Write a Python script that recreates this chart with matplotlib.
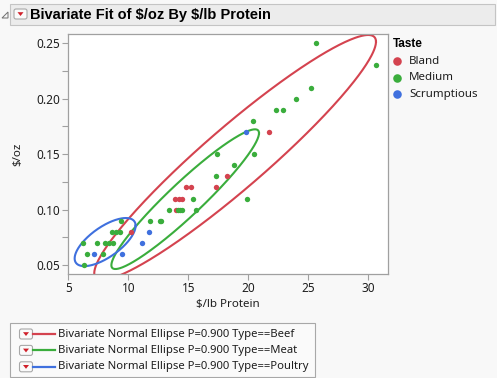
import numpy as np
import matplotlib
matplotlib.use("Agg")
import matplotlib.pyplot as plt
from matplotlib.patches import FancyBboxPatch, Rectangle, Polygon

plt.rcParams['font.family'] = ['Noto Sans', 'DejaVu Sans']
BOLD_FAM = ['Liberation Sans', 'DejaVu Sans']

# ---------------- data ----------------
bland_x = [21.7, 18.2, 17.3, 14.8, 15.2, 13.9, 14.2, 14.5, 13.95, 10.2]
bland_y = [0.17, 0.13, 0.12, 0.12, 0.12, 0.11, 0.11, 0.11, 0.10, 0.08]

medium_x = [25.6, 30.6, 25.25, 24.0, 22.3, 22.9, 20.4, 20.5, 17.4, 18.8, 17.3,
            15.4, 19.9, 13.35, 14.1, 14.3, 14.5, 15.6, 11.8, 12.6, 12.75, 9.4,
            8.6, 9.0, 9.3, 6.2, 7.4, 8.05, 8.4, 8.75, 6.55, 7.9, 6.3]
medium_y = [0.25, 0.23, 0.21, 0.20, 0.19, 0.19, 0.18, 0.15, 0.15, 0.14, 0.13,
            0.11, 0.11, 0.10, 0.10, 0.10, 0.10, 0.10, 0.09, 0.09, 0.09, 0.09,
            0.08, 0.08, 0.08, 0.07, 0.07, 0.07, 0.07, 0.07, 0.06, 0.06, 0.05]

scrump_x = [19.8, 11.7, 11.1, 7.1, 9.5]
scrump_y = [0.17, 0.08, 0.07, 0.06, 0.06]

taste_labels = ['Bland', 'Medium', 'Scrumptious']

# bivariate normal ellipse parameters per Type (Beef, Meat, Poultry)
ell_types = ['Beef', 'Meat', 'Poultry']
ell_mean_x = [18.9, 14.74, 8.07]
ell_mean_y = [0.147, 0.1094, 0.0707]
ell_sd_x = [5.47, 2.866, 1.184]
ell_sd_y = [0.0515, 0.02936, 0.01011]
ell_corr = [0.9446, 0.945, 0.68]
ell_p = 0.900

x_ticks = [5, 10, 15, 20, 25, 30]
y_ticks = [0.05, 0.10, 0.15, 0.20, 0.25]

# ---------------- style ----------------
RED = '#D4434F'
GREEN = '#3AAD3C'
BLUE = '#3F70DE'
GRID = '#A0A0A0'
TXT = '#1E1E1E'
BG = '#F8F8F8'

W, H = 497, 378
fig = plt.figure(figsize=(W / 100, H / 100), dpi=100, facecolor=BG)

ax = fig.add_axes([68.3 / W, 1 - 274 / H, (388 - 68.3) / W, (274 - 34) / H])
ax.set_facecolor('white')
ax.set_xlim(5, 31.64)
ax.set_ylim(0.0419, 0.2584)

ms = 15
ax.scatter(bland_x, bland_y, s=ms, color=RED, linewidths=0, zorder=3)
ax.scatter(medium_x, medium_y, s=ms, color=GREEN, linewidths=0, zorder=3)
ax.scatter(scrump_x, scrump_y, s=ms, color=BLUE, linewidths=0, zorder=3)

c = np.sqrt(-2 * np.log(1 - ell_p))
t = np.linspace(0, 2 * np.pi, 400)
ell_colors = [RED, GREEN, BLUE]
for mx, my, sx, sy, r, col in zip(ell_mean_x, ell_mean_y, ell_sd_x, ell_sd_y, ell_corr, ell_colors):
    ex = mx + c * sx * np.cos(t)
    ey = my + c * sy * (r * np.cos(t) + np.sqrt(1 - r * r) * np.sin(t))
    ax.plot(ex, ey, color=col, lw=1.5, zorder=2)

ax.set_xticks(x_ticks)
ax.set_xticklabels([str(v) for v in x_ticks])
ax.set_yticks(y_ticks)
ax.set_yticklabels(['%.2f' % v for v in y_ticks])
ax.set_yticks([0.075, 0.125, 0.175, 0.225], minor=True)
ax.tick_params(axis='both', which='both', direction='out', length=4, width=0.8,
               color=GRID, labelsize=8.5, labelcolor=TXT, pad=2)
for s in ax.spines.values():
    s.set_color(GRID)
    s.set_linewidth(0.9)
ax.set_xlabel('\\$/lb Protein', fontsize=8.3, color=TXT, labelpad=3)
ax.set_ylabel('\\$/oz', fontsize=8.3, color=TXT, labelpad=9)

# ---------------- overlay (pixel coordinates) ----------------
ov = fig.add_axes([0, 0, 1, 1], facecolor='none')
ov.set_xlim(0, W)
ov.set_ylim(H, 0)
ov.axis('off')

def red_button(x, y):
    ov.add_patch(FancyBboxPatch((x, y), 13, 10, boxstyle='round,pad=0,rounding_size=2',
                                fc='#FAFAFA', ec='#A8A8A8', lw=0.8))
    ov.add_patch(Polygon([[x + 3.5, y + 3.2], [x + 9.5, y + 3.2], [x + 6.5, y + 7]],
                         closed=True, fc='#D0202A', ec='none'))

# title bar
ov.add_patch(Rectangle((10, 3.5), 485, 21, fc='#ECECEC', ec='#C4C4C4', lw=0.8))
ov.add_patch(Polygon([[2, 18], [8, 12], [8, 18]], closed=True, fc='none', ec='#707070', lw=0.7))
red_button(14, 9)
ov.text(30.5, 14.5, 'Bivariate Fit of \\$/oz By \\$/lb Protein', fontsize=10.5, fontweight='bold',
        family=BOLD_FAM, color='#000000', va='center', ha='left')

# Taste legend
ov.text(393, 44, 'Taste', fontsize=8.5, fontweight='bold', family=BOLD_FAM,
        color='#000000', va='center', ha='left')
for i, (lab, col) in enumerate(zip(taste_labels, [RED, GREEN, BLUE])):
    yy = 61 + i * 16.6
    ov.scatter([397], [yy], s=38, color=col, linewidths=0)
    ov.text(409, yy, lab, fontsize=8.3, color=TXT, va='center', ha='left')

# bottom legend
ov.add_patch(Rectangle((9.5, 322.5), 305.5, 54, fc='#FAFAFA', ec='#A8A8A8', lw=0.8))
for i, (typ, col) in enumerate(zip(ell_types, ell_colors)):
    yy = 334 + i * 16.4
    red_button(19.5, yy - 5)
    ov.plot([32.5, 55], [yy, yy], color=col, lw=1.6)
    ov.text(57.5, yy, 'Bivariate Normal Ellipse P=%.3f Type==%s' % (ell_p, typ),
            fontsize=8.1, color=TXT, va='center', ha='left')

fig.savefig('out.png', dpi=100, facecolor=BG)
